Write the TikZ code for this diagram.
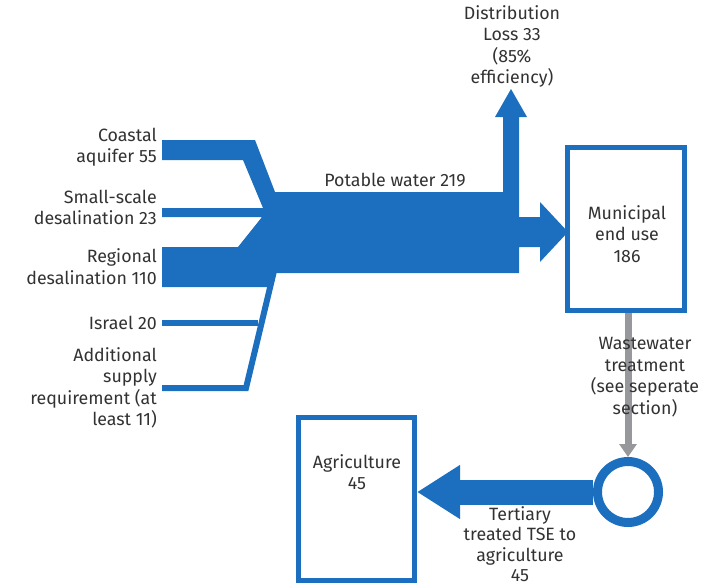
\documentclass[tikz,border=0pt]{standalone}
\usepackage{fontspec}
\setmainfont{Fira Sans}
\usetikzlibrary{arrows.meta}
\definecolor{flowblue}{RGB}{27,111,190}
\definecolor{txtgray}{RGB}{50,50,50}
\definecolor{wgray}{RGB}{150,152,155}
\begin{document}
\begin{tikzpicture}[x=1pt,y=-1pt,
  lbl/.style={text=txtgray, font=\fontsize{17.8}{21.5}\selectfont, inner sep=0pt, align=center},
  lblr/.style={lbl, align=right, anchor=east},
  boxnode/.style={draw=flowblue, line width=5pt, fill=white, inner sep=0pt},
  thin/.style={draw=flowblue, line width=6pt, line join=miter}]
\useasboundingbox (0,0) rectangle (709,587);

% main merged flow with distribution loss and municipal arrow
\fill[flowblue] (162,140) -- (255,140) -- (275,192) -- (503,192) -- (503,117)
  -- (495,117) -- (511,89) -- (527,117) -- (519,117) -- (519,217) -- (540,217)
  -- (540,202) -- (568,232) -- (540,262) -- (540,247) -- (519,247) -- (519,273)
  -- (275,273) -- (270,287) -- (162,287) -- (162,247) -- (238,247) -- (262,217)
  -- (162,217) -- (162,208) -- (263,208) -- (243,160) -- (162,160) -- cycle;

% thin inputs
\coordinate (isr) at (162,323);
\coordinate (isrj) at (258,323);
\coordinate (add) at (162,388);
\coordinate (addc) at (246,388);
\coordinate (join) at (274,271);
\draw[thin] (isr) -- (isrj);
\draw[thin] (add) -- (addc) -- (join);

% boxes
\node[boxnode, minimum width=117pt, minimum height=163pt] (muni) at (626,229) {};
\node[boxnode, minimum width=116pt, minimum height=163pt] (agri) at (356.5,499) {};
\node[draw=flowblue, line width=9pt, circle, minimum size=61pt, inner sep=0pt] (circ) at (628,492) {};

% wastewater arrow
\draw[wgray, line width=7pt, -{Triangle[width=17pt,length=13pt]}] (circ.north |- muni.south) -- (circ.north);

% TSE arrow
\draw[flowblue, line width=25pt, -{Triangle[width=51pt,length=43pt]}] (circ.west) -- (circ.west -| agri.east);

% labels
\node[lblr] (lcoast) at (157,147) {Coastal\\aquifer 55};
\node[lblr] (lsmall) at (157,207.5) {Small-scale\\desalination 23};
\node[lblr] (lreg) at (157,266.5) {Regional\\desalination 110};
\node[lblr] (lisr) at (157,323) {Israel 20};
\node[lblr] (ladd) at (157,388) {Additional\\supply\\requirement (at\\least 11)};
\node[lbl] (lpot) at (395,180) {Potable water 219};
\node[lbl] (ldist) at (512,46.5) {Distribution\\Loss 33\\(85\%\\efficiency)};
\node[lbl] (lmuni) at (627,234) {Municipal\\end use\\186};
\node[lbl] (lwaste) at (645,377) {Wastewater\\treatment\\(see seperate\\section)};
\node[lbl] (lagri) at (357,472) {Agriculture\\45};
\node[lbl, font=\fontsize{17.8}{20.5}\selectfont] (ltse) at (520,544) {Tertiary\\treated TSE to\\agriculture\\45};
\end{tikzpicture}
\end{document}
